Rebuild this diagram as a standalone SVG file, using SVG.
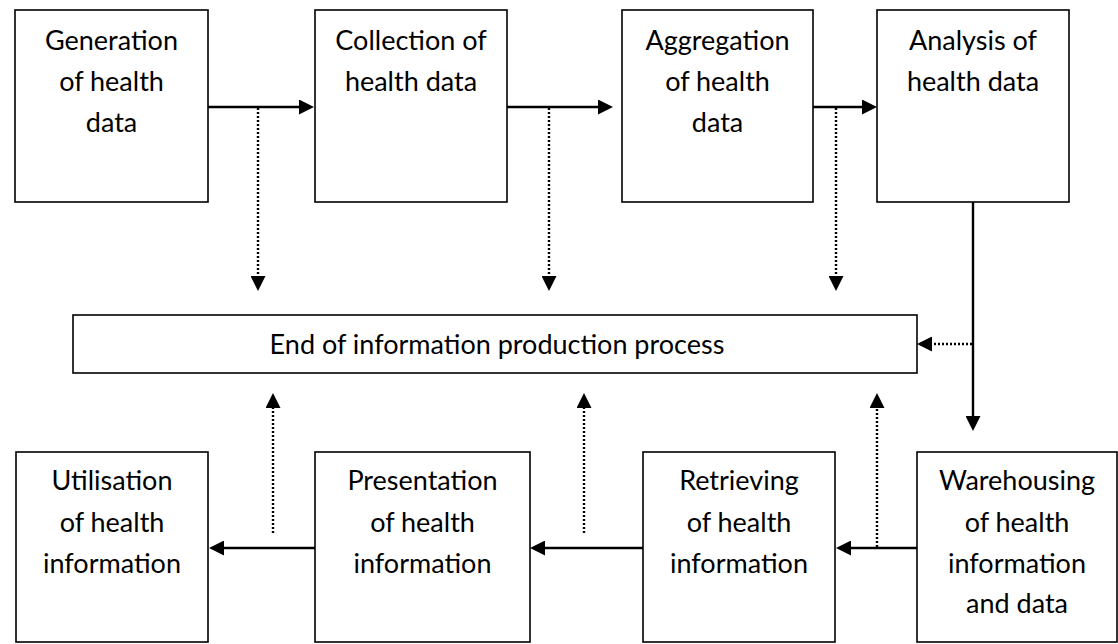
<svg xmlns="http://www.w3.org/2000/svg" width="1118" height="644" viewBox="0 0 1118 644">
<style>
.box{fill:#fff;stroke:#000;stroke-width:1.6}
.t{font-family:Lato,"Liberation Sans",sans-serif;font-size:27px;fill:#000;text-anchor:middle}
.solid{stroke:#000;stroke-width:2.4;fill:none}
.dot{stroke:#000;stroke-width:2.4;stroke-dasharray:2 2;fill:none}
</style>
<defs>
<marker id="arr" viewBox="0 0 15 15" markerWidth="15" markerHeight="15" refX="0" refY="7.5" orient="auto" markerUnits="userSpaceOnUse">
<path d="M0,0 L15,7.5 L0,15 z" fill="#000"/>
</marker>
</defs>
<rect width="1118" height="644" fill="#fff"/>
<g id="connectors">
<line class="solid" x1="208" y1="107" x2="299" y2="107" marker-end="url(#arr)"/>
<line class="solid" x1="507" y1="107" x2="598" y2="107" marker-end="url(#arr)"/>
<line class="solid" x1="808" y1="107" x2="862" y2="107" marker-end="url(#arr)"/>
<line class="dot" x1="258" y1="108" x2="258" y2="276" marker-end="url(#arr)"/>
<line class="dot" x1="549" y1="108" x2="549" y2="276" marker-end="url(#arr)"/>
<line class="dot" x1="836" y1="108" x2="836" y2="276" marker-end="url(#arr)"/>
<line class="solid" x1="973" y1="202" x2="973" y2="416" marker-end="url(#arr)"/>
<line class="dot" x1="972" y1="344" x2="932" y2="344" marker-end="url(#arr)"/>
<line class="dot" x1="273" y1="533" x2="273" y2="408" marker-end="url(#arr)"/>
<line class="dot" x1="584" y1="533" x2="584" y2="408" marker-end="url(#arr)"/>
<line class="dot" x1="877" y1="547" x2="877" y2="408" marker-end="url(#arr)"/>
<line class="solid" x1="917" y1="548" x2="851" y2="548" marker-end="url(#arr)"/>
<line class="solid" x1="643" y1="548" x2="545" y2="548" marker-end="url(#arr)"/>
<line class="solid" x1="315" y1="548" x2="224" y2="548" marker-end="url(#arr)"/>
</g>
<g id="n1"><rect class="box" x="15" y="10" width="193" height="192"/>
<text class="t" x="111.5" y="50">Generation</text><text class="t" x="111.5" y="91">of health</text><text class="t" x="111.5" y="132">data</text></g>
<g id="n2"><rect class="box" x="315" y="10" width="192" height="192"/>
<text class="t" x="411" y="50">Collection of</text><text class="t" x="411" y="91">health data</text></g>
<g id="n3"><rect class="box" x="622" y="10" width="191" height="192"/>
<text class="t" x="717.5" y="50">Aggregation</text><text class="t" x="717.5" y="91">of health</text><text class="t" x="717.5" y="132">data</text></g>
<g id="n4"><rect class="box" x="877" y="10" width="192" height="192"/>
<text class="t" x="973" y="50">Analysis of</text><text class="t" x="973" y="91">health data</text></g>
<g id="n5"><rect class="box" x="73" y="315" width="844" height="58"/>
<text class="t" x="497" y="354">End of information production process</text></g>
<g id="n6"><rect class="box" x="16" y="452" width="192" height="190"/>
<text class="t" x="112" y="490">Utilisation</text><text class="t" x="112" y="532">of health</text><text class="t" x="112" y="573">information</text></g>
<g id="n7"><rect class="box" x="315" y="452" width="215" height="190"/>
<text class="t" x="422.5" y="490">Presentation</text><text class="t" x="422.5" y="532">of health</text><text class="t" x="422.5" y="573">information</text></g>
<g id="n8"><rect class="box" x="643" y="452" width="192" height="190"/>
<text class="t" x="739" y="490">Retrieving</text><text class="t" x="739" y="532">of health</text><text class="t" x="739" y="573">information</text></g>
<g id="n9"><rect class="box" x="917" y="452" width="200" height="190"/>
<text class="t" x="1017" y="490">Warehousing</text><text class="t" x="1017" y="532">of health</text><text class="t" x="1017" y="573">information</text><text class="t" x="1017" y="613">and data</text></g>
</svg>
